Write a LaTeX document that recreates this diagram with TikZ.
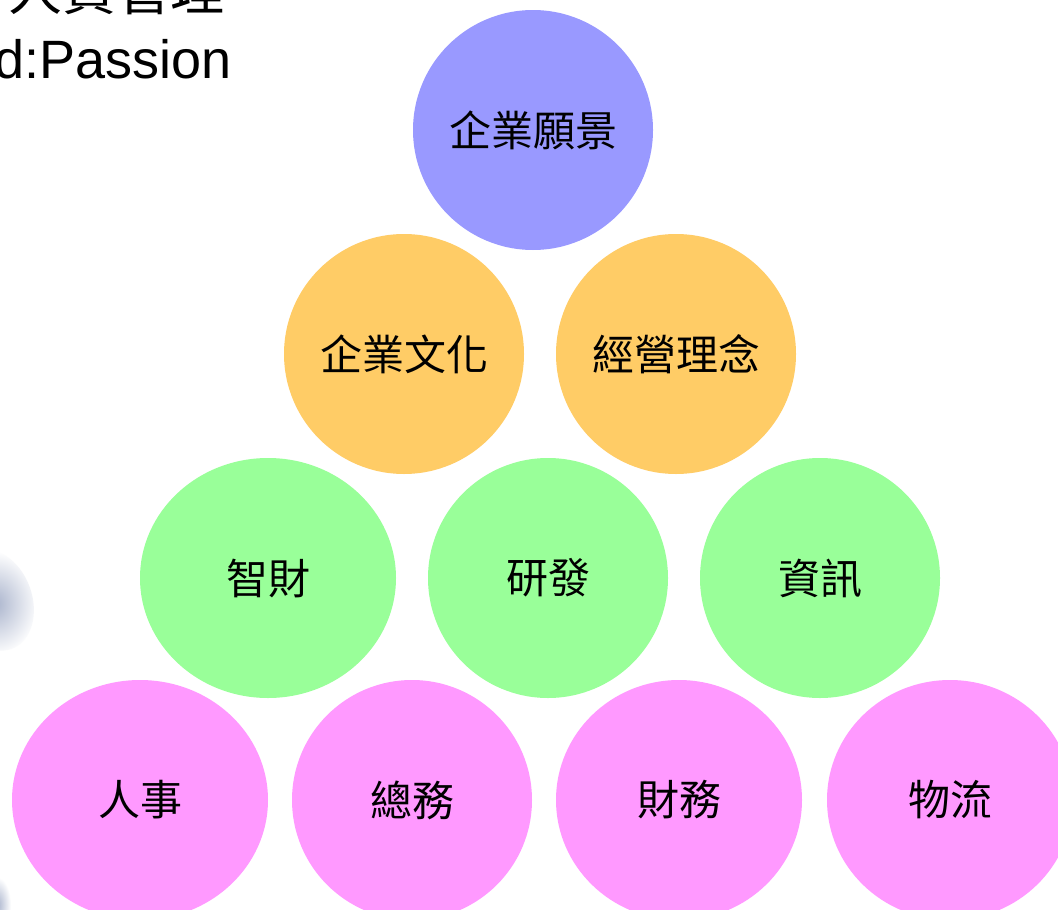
\documentclass[tikz,border=0pt]{standalone}
\usepackage{fontspec}
\setmainfont{Liberation Sans}
\newfontfamily\cjk{Noto Sans CJK TC}
\definecolor{cblue}{HTML}{9999FF}
\definecolor{corange}{HTML}{FFCC66}
\definecolor{cgreen}{HTML}{99FF99}
\definecolor{cpink}{HTML}{FF99FF}
\definecolor{blob}{HTML}{A9B3CC}
\tikzset{
  bub/.style={ellipse, minimum width=#1, minimum height=240pt, inner sep=0pt, font=\cjk\fontsize{42}{46}\selectfont},
  bub/.default=240pt,
}
\usetikzlibrary{shapes.geometric}
\begin{document}
\begin{tikzpicture}[x=1pt,y=-1pt]
\useasboundingbox (0,0) rectangle (1058,910);
\fill[white] (0,0) rectangle (1058,910);
% decorative blobs at left edge
\begin{scope}[shift={(-6,600)}, rotate=20]
\shade[inner color=blob, outer color=white] (0,0) ellipse (38 and 52);
\end{scope}
\shade[inner color=blob, outer color=white] (-3,905) ellipse (14 and 28);
% header texts (cut off)
\node[anchor=base west, inner sep=0pt, font=\cjk\fontsize{54}{60}\selectfont] (hdr) at (8,10) {人資管理};
\node[anchor=base east, inner sep=0pt, font=\fontsize{54}{60}\selectfont] (pas) at (232,78) {d:Passion};
% row 1
\node[bub, fill=cblue] (vision) at (533,130) {企業願景};
% row 2
\node[bub, fill=corange] (culture) at (404,354) {企業文化};
\node[bub, fill=corange] (idea) at (676,354) {經營理念};
% row 3
\node[bub=256pt, fill=cgreen] (ip) at (268,578) {智財};
\node[bub, fill=cgreen] (rd) at (548,578) {研發};
\node[bub, fill=cgreen] (it) at (820,578) {資訊};
% row 4
\node[bub=256pt, fill=cpink] (hr) at (140,800) {人事};
\node[bub, fill=cpink] (ga) at (412,800) {總務};
\node[bub=246pt, fill=cpink] (fin) at (679,800) {財務};
\node[bub=246pt, fill=cpink] (log) at (950,800) {物流};
\end{tikzpicture}
\end{document}
